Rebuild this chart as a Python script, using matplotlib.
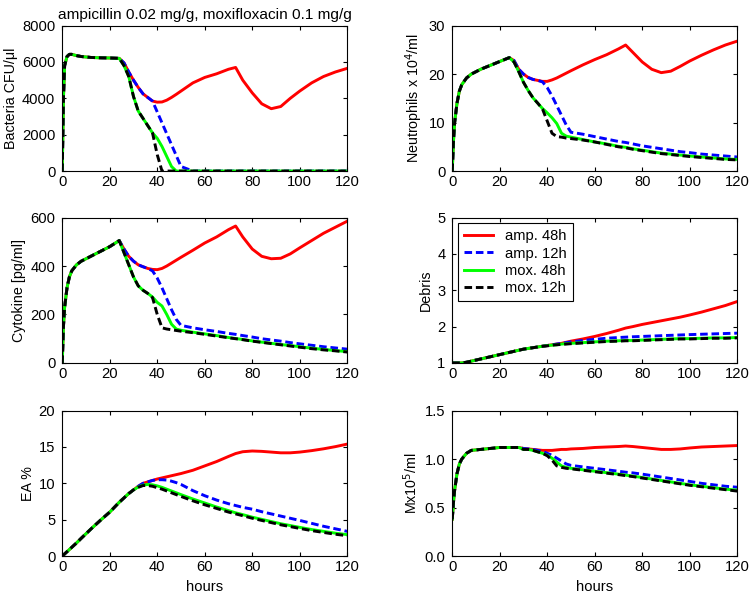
import matplotlib
matplotlib.use("Agg")
import matplotlib.pyplot as plt

plt.rcParams["font.family"] = ["Liberation Sans", "DejaVu Sans"]
plt.rcParams["font.size"] = 10.5

# time grid shared by all panels (hours)
hours = [0, 0.5, 1, 2, 3, 4, 6, 8, 12, 16, 20, 24,
         26, 28, 30, 32, 34, 36, 38, 40, 42, 44, 46, 48, 50,
         55, 60, 65, 70, 73, 76, 80, 84, 88, 92, 96, 100, 105, 110, 115, 120]

series_labels = ["amp. 48h", "amp. 12h", "mox. 48h", "mox. 12h"]

# Bacteria CFU/ul
bact_pre = [0, 4000, 5800, 6300, 6420, 6420, 6350, 6300, 6250, 6230, 6220, 6200]
bact_amp48 = [5950, 5450, 5000, 4600, 4250, 4050, 3850, 3790, 3800, 3900, 4050, 4220, 4400,
              4850, 5150, 5350, 5600, 5700, 5000, 4300, 3700, 3430, 3550, 4000, 4400, 4850, 5200, 5450, 5650]
bact_amp12 = [5950, 5450, 5000, 4600, 4250, 4050, 3850, 3250, 2650, 2050, 1450, 850, 250,
              0, 0, 0, 0, 0, 0, 0, 0, 0, 0, 0, 0, 0, 0, 0, 0]
bact_mox48 = [5800, 5200, 4100, 3300, 2900, 2500, 2100, 1800, 1350, 800, 250, 0, 0,
              0, 0, 0, 0, 0, 0, 0, 0, 0, 0, 0, 0, 0, 0, 0, 0]
bact_mox12 = [5800, 5200, 4100, 3300, 2900, 2500, 2100, 900, 0, 0, 0, 0, 0,
              0, 0, 0, 0, 0, 0, 0, 0, 0, 0, 0, 0, 0, 0, 0, 0]

# Neutrophils x 10^4/ml
neut_pre = [0, 6, 10, 14, 16.5, 17.8, 19.2, 20, 21, 21.8, 22.6, 23.4]
neut_amp48 = [22.8, 21, 20, 19.3, 18.9, 18.7, 18.5, 18.5, 18.8, 19.2, 19.7, 20.2, 20.7,
              21.9, 23, 24, 25.2, 26, 24.5, 22.5, 21, 20.3, 20.6, 21.6, 22.7, 23.9, 25, 26, 26.8]
neut_amp12 = [22.8, 21, 20, 19.3, 18.9, 18.7, 18.4, 17.2, 15.5, 13.5, 11.5, 9.5, 8.0,
              7.6, 7.1, 6.6, 6.1, 5.9, 5.6, 5.2, 4.9, 4.6, 4.3, 4.0, 3.8, 3.5, 3.3, 3.1, 2.9]
neut_mox48 = [22.5, 20.5, 18.3, 16.6, 15.1, 14.0, 12.9, 12.0, 11.0, 9.8, 7.8, 7.2, 7.0,
              6.5, 6.0, 5.6, 5.1, 4.9, 4.6, 4.3, 4.0, 3.7, 3.5, 3.3, 3.1, 2.9, 2.7, 2.5, 2.4]
neut_mox12 = [22.5, 20.5, 18.3, 16.6, 15.1, 14.0, 12.8, 10.3, 7.8, 7.1, 7.0, 6.8, 6.7,
              6.4, 6.0, 5.5, 5.0, 4.8, 4.5, 4.2, 3.9, 3.6, 3.4, 3.2, 3.0, 2.8, 2.6, 2.4, 2.3]

# Cytokine pg/ml
cyto_pre = [0, 150, 230, 310, 355, 380, 405, 420, 440, 460, 480, 505]
cyto_amp48 = [470, 440, 420, 405, 397, 390, 386, 385, 390, 400, 412, 424, 436,
              465, 495, 520, 550, 565, 520, 470, 440, 430, 432, 450, 475, 505, 535, 560, 585]
cyto_amp12 = [470, 440, 420, 405, 397, 390, 380, 350, 310, 265, 220, 180, 155,
              145, 137, 130, 122, 118, 113, 107, 100, 95, 90, 84, 79, 73, 67, 62, 57]
cyto_mox48 = [455, 405, 355, 318, 300, 287, 272, 250, 235, 200, 160, 140, 135,
              127, 120, 113, 105, 101, 97, 91, 86, 81, 76, 72, 67, 61, 56, 51, 47]
cyto_mox12 = [455, 405, 355, 318, 300, 287, 270, 200, 145, 140, 137, 134, 131,
              125, 118, 111, 104, 100, 96, 90, 85, 80, 75, 70, 65, 59, 54, 50, 45]

# Debris
debr_pre = [1.0, 1.0, 1.0, 1.0, 1.0, 1.0, 1.02, 1.05, 1.11, 1.17, 1.23, 1.29]
debr_amp48 = [1.32, 1.35, 1.38, 1.4, 1.42, 1.44, 1.46, 1.48, 1.5, 1.52, 1.54, 1.57, 1.6,
              1.66, 1.73, 1.81, 1.9, 1.96, 2.0, 2.06, 2.11, 2.16, 2.21, 2.26, 2.32, 2.4, 2.49, 2.58, 2.69]
debr_amp12 = [1.32, 1.35, 1.38, 1.4, 1.42, 1.44, 1.46, 1.48, 1.5, 1.52, 1.54, 1.56, 1.58,
              1.62, 1.65, 1.68, 1.7, 1.71, 1.72, 1.73, 1.74, 1.75, 1.76, 1.77, 1.78, 1.79, 1.8, 1.81, 1.82]
debr_mox48 = [1.32, 1.35, 1.38, 1.4, 1.42, 1.44, 1.46, 1.48, 1.49, 1.5, 1.52, 1.53, 1.54,
              1.56, 1.58, 1.6, 1.61, 1.62, 1.62, 1.63, 1.64, 1.65, 1.66, 1.67, 1.67, 1.68, 1.69, 1.69, 1.7]
debr_mox12 = [1.32, 1.35, 1.38, 1.4, 1.42, 1.44, 1.46, 1.47, 1.49, 1.5, 1.51, 1.52, 1.53,
              1.55, 1.57, 1.59, 1.6, 1.61, 1.61, 1.62, 1.63, 1.64, 1.65, 1.66, 1.66, 1.67, 1.68, 1.68, 1.69]

# EA %
ea_pre = [0, 0.15, 0.3, 0.6, 0.9, 1.2, 1.8, 2.45, 3.7, 4.9, 6.05, 7.4]
ea_amp48 = [8.0, 8.6, 9.1, 9.6, 10.0, 10.2, 10.4, 10.6, 10.75, 10.9, 11.05, 11.2, 11.35,
            11.8, 12.4, 13.0, 13.7, 14.1, 14.35, 14.45, 14.4, 14.3, 14.2, 14.2, 14.3, 14.5, 14.75, 15.05, 15.4]
ea_amp12 = [8.0, 8.6, 9.1, 9.6, 10.0, 10.2, 10.4, 10.5, 10.5, 10.45, 10.3, 10.1, 9.85,
            9.0, 8.3, 7.7, 7.2, 6.95, 6.7, 6.45, 6.1, 5.8, 5.5, 5.2, 4.9, 4.5, 4.1, 3.75, 3.4]
ea_mox48 = [8.0, 8.6, 9.1, 9.5, 9.75, 9.85, 9.8, 9.65, 9.45, 9.2, 8.95, 8.7, 8.45,
            7.85, 7.3, 6.75, 6.25, 5.95, 5.7, 5.35, 5.05, 4.75, 4.45, 4.2, 3.95, 3.65, 3.4, 3.15, 2.95]
ea_mox12 = [8.0, 8.6, 9.1, 9.45, 9.7, 9.7, 9.6, 9.4, 9.2, 8.95, 8.7, 8.45, 8.2,
            7.6, 7.05, 6.55, 6.05, 5.8, 5.55, 5.2, 4.9, 4.6, 4.3, 4.05, 3.8, 3.5, 3.25, 3.0, 2.8]

# Mx x 10^5/ml
mx_pre = [0.38, 0.55, 0.68, 0.85, 0.95, 1.0, 1.06, 1.09, 1.1, 1.11, 1.12, 1.12]
mx_amp48 = [1.12, 1.12, 1.11, 1.105, 1.1, 1.095, 1.09, 1.09, 1.09, 1.095, 1.1, 1.1, 1.105,
            1.11, 1.12, 1.125, 1.13, 1.135, 1.13, 1.12, 1.11, 1.1, 1.1, 1.105, 1.115, 1.125, 1.13, 1.135, 1.14]
mx_amp12 = [1.12, 1.12, 1.11, 1.105, 1.1, 1.09, 1.08, 1.06, 1.04, 1.01, 0.98, 0.95, 0.935,
            0.92, 0.905, 0.89, 0.875, 0.865, 0.858, 0.845, 0.83, 0.815, 0.8, 0.785, 0.77, 0.75, 0.735, 0.72, 0.71]
mx_mox48 = [1.12, 1.12, 1.1, 1.1, 1.09, 1.075, 1.06, 1.04, 1.01, 0.97, 0.93, 0.915, 0.905,
            0.89, 0.875, 0.86, 0.845, 0.835, 0.825, 0.81, 0.795, 0.78, 0.765, 0.75, 0.735, 0.72, 0.705, 0.69, 0.68]
mx_mox12 = [1.12, 1.12, 1.1, 1.1, 1.09, 1.075, 1.06, 1.035, 0.99, 0.93, 0.915, 0.905, 0.9,
            0.885, 0.87, 0.855, 0.84, 0.83, 0.82, 0.805, 0.79, 0.775, 0.76, 0.745, 0.73, 0.715, 0.70, 0.685, 0.67]

panels = [
    ("Bacteria CFU/\u03bcl", bact_pre, [bact_amp48, bact_amp12, bact_mox48, bact_mox12], (0, 8000), [0, 2000, 4000, 6000, 8000]),
    ("Neutrophils x 10$^4$/ml", neut_pre, [neut_amp48, neut_amp12, neut_mox48, neut_mox12], (0, 30), [0, 10, 20, 30]),
    ("Cytokine [pg/ml]", cyto_pre, [cyto_amp48, cyto_amp12, cyto_mox48, cyto_mox12], (0, 600), [0, 200, 400, 600]),
    ("Debris", debr_pre, [debr_amp48, debr_amp12, debr_mox48, debr_mox12], (1, 5), [1, 2, 3, 4, 5]),
    ("EA %", ea_pre, [ea_amp48, ea_amp12, ea_mox48, ea_mox12], (0, 20), [0, 5, 10, 15, 20]),
    ("Mx10$^5$/ml", mx_pre, [mx_amp48, mx_amp12, mx_mox48, mx_mox12], (0, 1.5), [0, 0.5, 1, 1.5]),
]

styles = [
    dict(color="#ff0000", linestyle="-"),
    dict(color="#0000ff", linestyle=(0, (2.6, 1.3))),
    dict(color="#00ff00", linestyle="-"),
    dict(color="#000000", linestyle=(0, (2.6, 1.3))),
]

fig = plt.figure(figsize=(7.5, 5.96), dpi=100)
lefts = [0.083, 0.603]
bottoms = [0.713, 0.391, 0.067]
w, h = 0.38, 0.244

for i, (ylabel, pre, series, ylim, yticks) in enumerate(panels):
    row, col = divmod(i, 2)
    ax = fig.add_axes([lefts[col], bottoms[row], w, h])
    for vals, st, lab in zip(series, styles, series_labels):
        ax.plot(hours, pre + vals, linewidth=2.1, label=lab, **st)
    ax.set_xlim(0, 120)
    ax.set_ylim(*ylim)
    ax.set_xticks([0, 20, 40, 60, 80, 100, 120])
    ax.set_yticks(yticks)
    ax.set_ylabel(ylabel, fontsize=10.3, labelpad=3)
    ax.tick_params(direction="in", top=True, right=True, length=3, labelsize=10.6)
    ax.tick_params(axis="x", pad=3)
    ax.tick_params(axis="y", pad=5)
    for sp in ax.spines.values():
        sp.set_linewidth(0.8)
    if row == 2:
        ax.set_xlabel("hours", fontsize=10.6, labelpad=4)
    if i == 0:
        ax.set_title("ampicillin 0.02 mg/g, moxifloxacin 0.1 mg/g", fontsize=11.1, pad=5)
    if i == 3:
        leg = ax.legend(loc="upper left", fontsize=10.6, handlelength=2.0, fancybox=False,
                        framealpha=1, edgecolor="black", borderaxespad=0.4,
                        labelspacing=0.22, borderpad=0.4, handletextpad=0.8)
        leg.get_frame().set_linewidth(0.8)

fig.savefig("out.png", dpi=100)
